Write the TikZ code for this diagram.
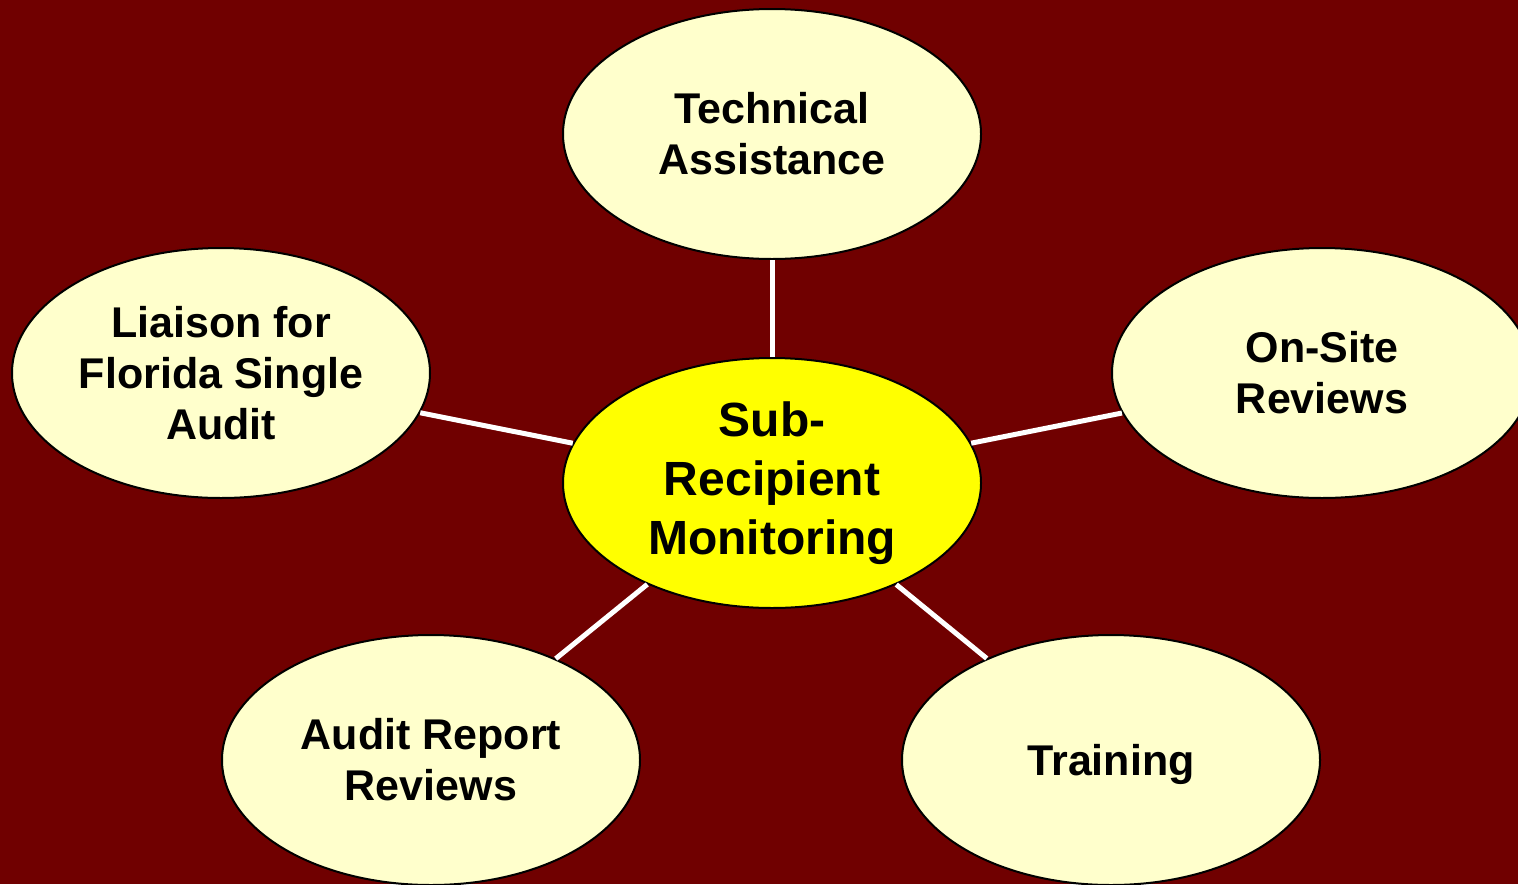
\documentclass[tikz,border=0pt]{standalone}
\usepackage{fontspec}
\setmainfont{Liberation Sans}
\usetikzlibrary{shapes.geometric}
\definecolor{bgred}{RGB}{112,0,0}
\definecolor{paleyellow}{RGB}{255,255,204}
\definecolor{hubyellow}{RGB}{255,255,0}
\tikzset{
  bubble/.style={ellipse, draw=black, line width=2pt, fill=paleyellow,
    minimum width=418pt, minimum height=250pt, inner sep=0pt, align=center,
    font=\fontsize{43}{51}\selectfont\bfseries},
  hub/.style={bubble, fill=hubyellow, font=\fontsize{48}{59}\selectfont\bfseries},
  spoke/.style={draw=white, line width=5pt}
}
\begin{document}
\begin{tikzpicture}[x=1pt, y=-1pt]
  \useasboundingbox (0,0) rectangle (1518,884);
  \clip (0,0) rectangle (1518,884);
  \fill[bgred] (0,0) rectangle (1518,884);

  \node[hub]    (hub)   at (772,483)  {Sub-\\Recipient\\Monitoring};
  \node[bubble] (tech)  at (772,134)  {Technical\\Assistance};
  \node[bubble] (liais) at (221,373)  {Liaison for\\Florida Single\\Audit};
  \node[bubble, minimum width=420pt] (site)  at (1322,373) {On-Site\\Reviews};
  \node[bubble] (audit) at (431,760)  {Audit Report\\Reviews};
  \node[bubble, text depth=0pt] (train) at (1111,760) {Training};

  \foreach \n in {tech,liais,site,audit,train}
    \draw[spoke] (\n) -- (hub);
\end{tikzpicture}
\end{document}
